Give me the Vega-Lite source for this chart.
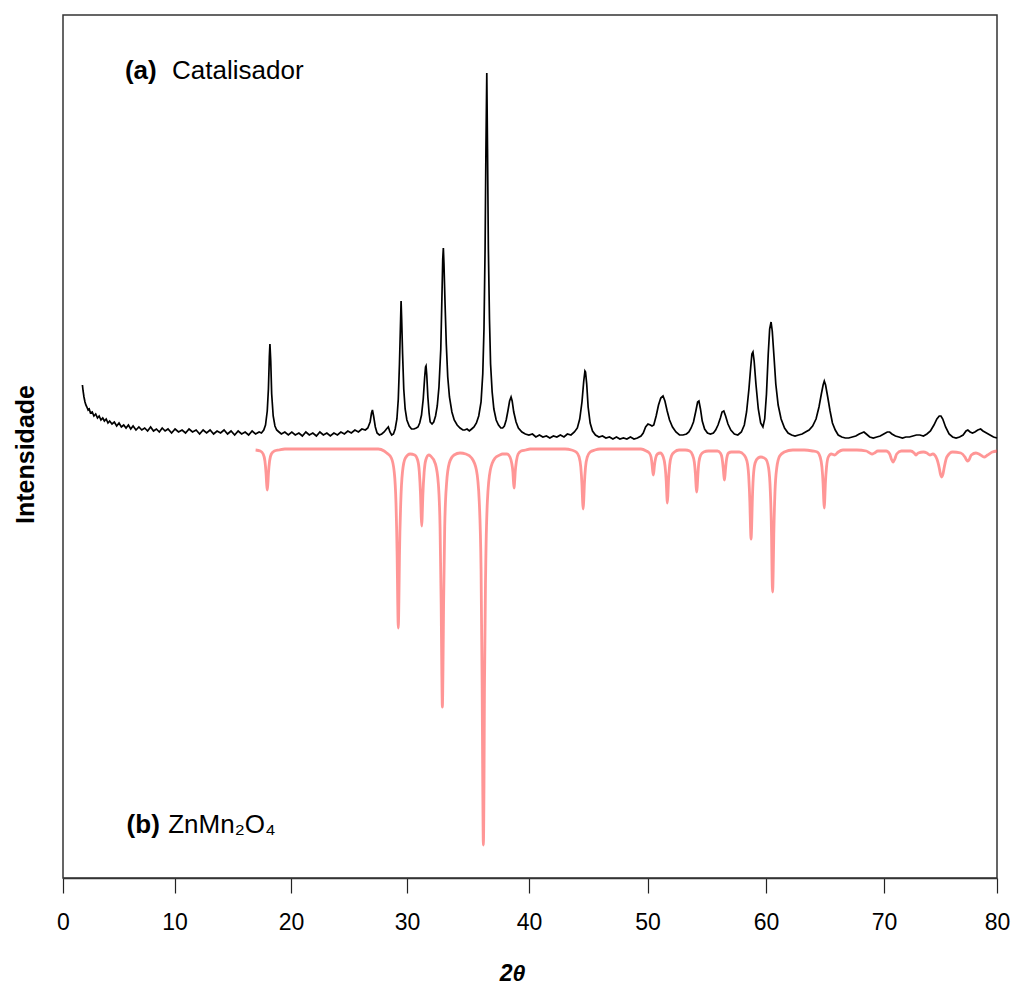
{
  "$schema": "https://vega.github.io/schema/vega-lite/v6.json",
  "width": 934,
  "height": 863,
  "autosize": {"type": "none"},
  "padding": {"left": 63, "top": 15, "right": 17, "bottom": 107},
  "background": "white",
  "config": {
    "font": "Liberation Sans",
    "view": {"stroke": "#333333", "strokeWidth": 1.5}
  },
  "datasets": {
    "cat": [
      {"t":1.74,"i":64},{"t":1.80,"i":58},{"t":1.88,"i":52},{"t":1.97,"i":47},{"t":2.05,"i":44},{"t":2.14,"i":42},{"t":2.25,"i":39},{"t":2.35,"i":40},{"t":2.46,"i":36},{"t":2.62,"i":37},{"t":2.77,"i":33},{"t":2.93,"i":35},{"t":3.09,"i":31},{"t":3.24,"i":33},{"t":3.40,"i":29},{"t":3.56,"i":31},{"t":3.71,"i":28},{"t":3.87,"i":30},{"t":4.03,"i":26},{"t":4.18,"i":28},{"t":4.39,"i":25},{"t":4.60,"i":27},{"t":4.81,"i":23},{"t":5.02,"i":26},{"t":5.23,"i":22},{"t":5.44,"i":24},{"t":5.65,"i":21},{"t":5.86,"i":24},{"t":6.07,"i":20},{"t":6.28,"i":23},{"t":6.54,"i":19},{"t":6.80,"i":22},{"t":7.06,"i":19},{"t":7.32,"i":21},{"t":7.58,"i":18},{"t":7.85,"i":22},{"t":8.11,"i":18},{"t":8.37,"i":20},{"t":8.63,"i":17},{"t":8.89,"i":21},{"t":9.15,"i":18},{"t":9.41,"i":20},{"t":9.73,"i":16},
      {"t":10.04,"i":20},{"t":10.34,"i":17},{"t":10.64,"i":19},{"t":10.94,"i":16},{"t":11.24,"i":20},{"t":11.54,"i":17},{"t":11.85,"i":19},{"t":12.15,"i":15},{"t":12.45,"i":19},{"t":12.75,"i":16},{"t":13.05,"i":19},{"t":13.35,"i":15},{"t":13.65,"i":18},{"t":13.95,"i":16},{"t":14.25,"i":19},{"t":14.55,"i":15},{"t":14.85,"i":18},{"t":15.16,"i":14},{"t":15.46,"i":18},{"t":15.76,"i":15},{"t":16.06,"i":17},{"t":16.36,"i":14},{"t":16.66,"i":18},{"t":16.96,"i":15},{"t":17.26,"i":17},{"t":17.46,"i":16},
      {"t":17.66,"i":19},{"t":17.81,"i":24},{"t":17.96,"i":38},{"t":18.06,"i":60},{"t":18.14,"i":92},{"t":18.19,"i":105},{"t":18.26,"i":88},{"t":18.34,"i":55},{"t":18.47,"i":33},{"t":18.62,"i":23},{"t":18.77,"i":19},{"t":18.97,"i":17},{"t":19.17,"i":15},{"t":19.47,"i":17},{"t":19.77,"i":14},
      {"t":20.07,"i":17},{"t":20.37,"i":14},{"t":20.68,"i":16},{"t":20.98,"i":13},{"t":21.28,"i":17},{"t":21.58,"i":14},{"t":21.88,"i":16},{"t":22.19,"i":13},{"t":22.49,"i":17},{"t":22.79,"i":14},{"t":23.09,"i":16},{"t":23.39,"i":13},{"t":23.70,"i":16},{"t":24.00,"i":14},{"t":24.30,"i":17},{"t":24.60,"i":15},{"t":24.90,"i":18},{"t":25.20,"i":16},{"t":25.51,"i":19},{"t":25.81,"i":17},{"t":26.11,"i":20},{"t":26.41,"i":19},
      {"t":26.62,"i":21},{"t":26.82,"i":27},{"t":26.94,"i":36},{"t":27.02,"i":39},{"t":27.12,"i":33},{"t":27.27,"i":22},{"t":27.42,"i":16},{"t":27.62,"i":14},{"t":27.82,"i":15},{"t":28.03,"i":17},{"t":28.23,"i":20},{"t":28.39,"i":22},{"t":28.53,"i":17},{"t":28.68,"i":14},{"t":28.83,"i":15},
      {"t":28.98,"i":20},{"t":29.13,"i":30},{"t":29.25,"i":50},{"t":29.35,"i":85},{"t":29.44,"i":125},{"t":29.49,"i":148},{"t":29.54,"i":130},{"t":29.62,"i":95},{"t":29.72,"i":60},{"t":29.84,"i":40},{"t":29.99,"i":29},{"t":30.18,"i":23},{"t":30.37,"i":20},{"t":30.57,"i":20},{"t":30.76,"i":21},{"t":30.90,"i":22},
      {"t":31.04,"i":26},{"t":31.19,"i":34},{"t":31.33,"i":50},{"t":31.45,"i":72},{"t":31.52,"i":82},{"t":31.56,"i":83},{"t":31.62,"i":74},{"t":31.71,"i":52},{"t":31.81,"i":36},{"t":31.90,"i":27},{"t":32.05,"i":25},{"t":32.19,"i":27},
      {"t":32.34,"i":33},{"t":32.48,"i":43},{"t":32.62,"i":62},{"t":32.77,"i":100},{"t":32.86,"i":150},{"t":32.93,"i":190},{"t":32.98,"i":201},{"t":33.03,"i":185},{"t":33.12,"i":145},{"t":33.22,"i":105},{"t":33.34,"i":72},{"t":33.48,"i":52},{"t":33.68,"i":37},{"t":33.87,"i":29},{"t":34.11,"i":24},{"t":34.35,"i":21},{"t":34.58,"i":19},{"t":34.73,"i":19},{"t":34.92,"i":20},{"t":35.11,"i":18},{"t":35.30,"i":20},
      {"t":35.49,"i":22},{"t":35.69,"i":26},{"t":35.88,"i":33},{"t":36.07,"i":47},{"t":36.21,"i":75},{"t":36.31,"i":120},{"t":36.40,"i":200},{"t":36.47,"i":300},{"t":36.54,"i":376},{"t":36.60,"i":300},{"t":36.67,"i":200},{"t":36.76,"i":130},{"t":36.85,"i":85},{"t":36.98,"i":57},{"t":37.12,"i":40},{"t":37.31,"i":29},{"t":37.50,"i":24},{"t":37.69,"i":21},{"t":37.84,"i":21},
      {"t":37.98,"i":23},{"t":38.13,"i":29},{"t":38.27,"i":38},{"t":38.41,"i":48},{"t":38.53,"i":52},{"t":38.62,"i":48},{"t":38.75,"i":37},{"t":38.94,"i":27},{"t":39.13,"i":21},{"t":39.42,"i":17},{"t":39.70,"i":15},{"t":39.99,"i":14},
      {"t":40.29,"i":15},{"t":40.58,"i":12},{"t":40.88,"i":14},{"t":41.17,"i":12},{"t":41.47,"i":13},{"t":41.76,"i":11},{"t":42.06,"i":13},{"t":42.35,"i":12},{"t":42.65,"i":14},{"t":42.95,"i":12},{"t":43.24,"i":15},{"t":43.54,"i":14},{"t":43.83,"i":17},
      {"t":44.08,"i":21},{"t":44.28,"i":30},{"t":44.47,"i":47},{"t":44.62,"i":68},{"t":44.72,"i":78},{"t":44.77,"i":77},{"t":44.87,"i":65},{"t":44.99,"i":42},{"t":45.16,"i":26},{"t":45.36,"i":18},{"t":45.61,"i":14},{"t":45.90,"i":12},{"t":46.20,"i":13},{"t":46.49,"i":11},{"t":46.79,"i":12},{"t":47.08,"i":10},{"t":47.38,"i":12},{"t":47.67,"i":10},{"t":47.97,"i":11},{"t":48.26,"i":10},{"t":48.56,"i":12},{"t":48.86,"i":10},{"t":49.15,"i":11},{"t":49.45,"i":13},
      {"t":49.64,"i":16},{"t":49.84,"i":22},{"t":50.04,"i":25},{"t":50.24,"i":24},{"t":50.38,"i":23},{"t":50.53,"i":24},{"t":50.73,"i":33},{"t":50.93,"i":44},{"t":51.12,"i":51},{"t":51.31,"i":53},{"t":51.47,"i":48},{"t":51.66,"i":38},{"t":51.86,"i":29},{"t":52.11,"i":22},{"t":52.40,"i":17},{"t":52.70,"i":14},{"t":52.99,"i":14},{"t":53.29,"i":15},
      {"t":53.49,"i":17},{"t":53.68,"i":21},{"t":53.88,"i":27},{"t":54.08,"i":38},{"t":54.23,"i":47},{"t":54.34,"i":48},{"t":54.47,"i":40},{"t":54.62,"i":28},{"t":54.82,"i":20},{"t":55.06,"i":16},{"t":55.31,"i":15},{"t":55.56,"i":16},{"t":55.75,"i":19},{"t":55.95,"i":24},{"t":56.15,"i":31},{"t":56.29,"i":37},{"t":56.44,"i":38},{"t":56.59,"i":33},{"t":56.79,"i":25},{"t":57.03,"i":19},{"t":57.33,"i":15},{"t":57.62,"i":14},
      {"t":57.92,"i":17},{"t":58.17,"i":24},{"t":58.36,"i":37},{"t":58.56,"i":60},{"t":58.71,"i":82},{"t":58.81,"i":95},{"t":58.90,"i":97},{"t":59.00,"i":88},{"t":59.15,"i":65},{"t":59.35,"i":40},{"t":59.55,"i":26},{"t":59.74,"i":22},{"t":59.89,"i":30},{"t":60.04,"i":55},{"t":60.19,"i":95},{"t":60.31,"i":120},{"t":60.43,"i":127},{"t":60.53,"i":118},{"t":60.68,"i":92},{"t":60.83,"i":65},{"t":61.03,"i":44},{"t":61.28,"i":30},{"t":61.57,"i":21},{"t":61.87,"i":16},{"t":62.17,"i":14},{"t":62.46,"i":13},
      {"t":62.76,"i":14},{"t":63.06,"i":15},{"t":63.35,"i":17},{"t":63.65,"i":19},{"t":63.95,"i":23},{"t":64.24,"i":30},{"t":64.49,"i":42},{"t":64.69,"i":55},{"t":64.84,"i":64},{"t":64.94,"i":68},{"t":65.05,"i":64},{"t":65.23,"i":52},{"t":65.43,"i":38},{"t":65.63,"i":26},{"t":65.87,"i":19},{"t":66.12,"i":14},{"t":66.42,"i":12},{"t":66.72,"i":11},{"t":67.01,"i":11},{"t":67.31,"i":12},{"t":67.61,"i":13},{"t":67.90,"i":15},{"t":68.10,"i":16},{"t":68.30,"i":17},{"t":68.50,"i":15},{"t":68.79,"i":12},{"t":69.09,"i":11},{"t":69.39,"i":12},{"t":69.68,"i":13},{"t":69.98,"i":15},{"t":70.29,"i":17},{"t":70.50,"i":17},{"t":70.70,"i":15},{"t":71.01,"i":13},{"t":71.32,"i":12},{"t":71.63,"i":11},{"t":71.94,"i":12},{"t":72.25,"i":12},{"t":72.56,"i":13},{"t":72.87,"i":14},{"t":73.18,"i":14},{"t":73.49,"i":13},
      {"t":73.80,"i":15},{"t":74.11,"i":18},{"t":74.42,"i":24},{"t":74.68,"i":30},{"t":74.89,"i":33},{"t":75.04,"i":33},{"t":75.20,"i":30},{"t":75.45,"i":22},{"t":75.76,"i":15},{"t":76.07,"i":12},{"t":76.38,"i":11},{"t":76.69,"i":12},{"t":77.00,"i":14},{"t":77.26,"i":18},{"t":77.42,"i":19},{"t":77.62,"i":17},{"t":77.83,"i":16},{"t":78.04,"i":17},{"t":78.30,"i":19},{"t":78.55,"i":20},{"t":78.76,"i":18},{"t":79.07,"i":16},{"t":79.38,"i":14},{"t":79.69,"i":12},{"t":80.0,"i":11}
    ],
    "ref": [
      {"t":16.96,"i":-1},{"t":17.36,"i":-2},{"t":17.61,"i":-5},{"t":17.76,"i":-12},{"t":17.86,"i":-25},{"t":17.91,"i":-35},{"t":17.96,"i":-41},{"t":18.01,"i":-35},{"t":18.06,"i":-25},{"t":18.16,"i":-12},{"t":18.31,"i":-5},{"t":18.57,"i":-2},{"t":18.97,"i":-1},{"t":19.47,"i":0},
      {"t":27.52,"i":0},{"t":28.03,"i":-2},{"t":28.25,"i":-4},{"t":28.65,"i":-9},{"t":28.90,"i":-23},{"t":29.05,"i":-54},{"t":29.15,"i":-107},{"t":29.20,"i":-152},{"t":29.25,"i":-179},{"t":29.30,"i":-152},{"t":29.35,"i":-107},{"t":29.46,"i":-54},{"t":29.61,"i":-23},{"t":29.86,"i":-9},{"t":30.25,"i":-5},
      {"t":30.63,"i":-6},{"t":30.87,"i":-11},{"t":31.01,"i":-23},{"t":31.11,"i":-46},{"t":31.16,"i":-65},{"t":31.21,"i":-77},{"t":31.25,"i":-65},{"t":31.30,"i":-46},{"t":31.40,"i":-24},{"t":31.54,"i":-11},{"t":31.78,"i":-6},
      {"t":31.94,"i":-7},{"t":32.33,"i":-15},{"t":32.57,"i":-35},{"t":32.71,"i":-78},{"t":32.80,"i":-155},{"t":32.85,"i":-219},{"t":32.90,"i":-258},{"t":32.95,"i":-219},{"t":33.00,"i":-155},{"t":33.09,"i":-78},{"t":33.24,"i":-35},{"t":33.47,"i":-14},{"t":33.86,"i":-6},{"t":34.35,"i":-4},{"t":34.82,"i":-5},
      {"t":35.30,"i":-9},{"t":35.69,"i":-21},{"t":35.92,"i":-52},{"t":36.07,"i":-120},{"t":36.16,"i":-238},{"t":36.21,"i":-337},{"t":36.26,"i":-396},{"t":36.31,"i":-337},{"t":36.35,"i":-238},{"t":36.45,"i":-120},{"t":36.59,"i":-52},{"t":36.83,"i":-21},{"t":37.22,"i":-9},{"t":37.60,"i":-6},{"t":37.82,"i":-5},
      {"t":38.20,"i":-5},{"t":38.44,"i":-8},{"t":38.58,"i":-14},{"t":38.68,"i":-23},{"t":38.73,"i":-33},{"t":38.78,"i":-39},{"t":38.82,"i":-33},{"t":38.87,"i":-23},{"t":38.97,"i":-12},{"t":39.11,"i":-5},{"t":39.35,"i":-2},{"t":39.73,"i":-1},{"t":40.09,"i":0},
      {"t":43.04,"i":0},{"t":43.59,"i":-1},{"t":43.98,"i":-3},{"t":44.23,"i":-8},{"t":44.37,"i":-18},{"t":44.47,"i":-36},{"t":44.52,"i":-51},{"t":44.57,"i":-60},{"t":44.62,"i":-51},{"t":44.67,"i":-36},{"t":44.77,"i":-18},{"t":44.92,"i":-8},{"t":45.16,"i":-3},{"t":45.56,"i":-1},{"t":46.00,"i":0},
      {"t":49.45,"i":0},{"t":49.90,"i":-2},{"t":50.15,"i":-4},{"t":50.30,"i":-8},{"t":50.39,"i":-16},{"t":50.44,"i":-22},{"t":50.49,"i":-26},{"t":50.54,"i":-22},{"t":50.59,"i":-16},{"t":50.69,"i":-9},{"t":50.84,"i":-5},{"t":51.08,"i":-4},
      {"t":51.33,"i":-8},{"t":51.48,"i":-17},{"t":51.58,"i":-32},{"t":51.63,"i":-46},{"t":51.67,"i":-54},{"t":51.72,"i":-46},{"t":51.77,"i":-32},{"t":51.87,"i":-16},{"t":52.02,"i":-7},{"t":52.27,"i":-3},{"t":52.66,"i":-1},{"t":53.19,"i":-1},
      {"t":53.56,"i":-2},{"t":53.80,"i":-6},{"t":53.95,"i":-13},{"t":54.05,"i":-26},{"t":54.10,"i":-37},{"t":54.15,"i":-43},{"t":54.20,"i":-37},{"t":54.25,"i":-26},{"t":54.34,"i":-13},{"t":54.49,"i":-6},{"t":54.74,"i":-3},{"t":55.13,"i":-2},{"t":55.51,"i":-2},
      {"t":55.90,"i":-2},{"t":56.15,"i":-4},{"t":56.29,"i":-9},{"t":56.39,"i":-19},{"t":56.44,"i":-26},{"t":56.49,"i":-31},{"t":56.54,"i":-26},{"t":56.59,"i":-19},{"t":56.69,"i":-9},{"t":56.84,"i":-4},{"t":57.08,"i":-3},{"t":57.43,"i":-3},
      {"t":57.75,"i":-3},{"t":58.15,"i":-6},{"t":58.39,"i":-12},{"t":58.54,"i":-27},{"t":58.64,"i":-54},{"t":58.69,"i":-77},{"t":58.74,"i":-90},{"t":58.79,"i":-77},{"t":58.84,"i":-54},{"t":58.93,"i":-28},{"t":59.08,"i":-14},{"t":59.33,"i":-9},{"t":59.57,"i":-8},
      {"t":59.97,"i":-10},{"t":60.22,"i":-19},{"t":60.37,"i":-43},{"t":60.47,"i":-86},{"t":60.51,"i":-122},{"t":60.56,"i":-143},{"t":60.61,"i":-122},{"t":60.66,"i":-86},{"t":60.76,"i":-43},{"t":60.91,"i":-19},{"t":61.16,"i":-7},{"t":61.55,"i":-3},{"t":62.27,"i":-1},{"t":63.25,"i":-1},
      {"t":63.95,"i":-2},{"t":64.34,"i":-3},{"t":64.59,"i":-8},{"t":64.74,"i":-18},{"t":64.84,"i":-35},{"t":64.89,"i":-50},{"t":64.94,"i":-59},{"t":64.98,"i":-50},{"t":65.03,"i":-35},{"t":65.13,"i":-18},{"t":65.28,"i":-8},{"t":65.53,"i":-5},{"t":65.83,"i":-6},{"t":66.12,"i":-3},{"t":66.52,"i":-1},
      {"t":67.70,"i":-1},{"t":68.50,"i":-2},{"t":68.79,"i":-4},{"t":68.99,"i":-5},{"t":69.19,"i":-4},{"t":69.48,"i":-2},{"t":70.19,"i":-2},{"t":70.50,"i":-5},{"t":70.65,"i":-10},{"t":70.81,"i":-13},{"t":70.96,"i":-10},{"t":71.12,"i":-5},{"t":71.53,"i":-2},
      {"t":72.36,"i":-2},{"t":72.67,"i":-4},{"t":72.83,"i":-6},{"t":73.03,"i":-4},{"t":73.49,"i":-3},{"t":73.80,"i":-4},{"t":74.07,"i":-6},{"t":74.32,"i":-5},{"t":74.68,"i":-10},{"t":74.89,"i":-19},{"t":74.99,"i":-25},{"t":75.10,"i":-28},{"t":75.22,"i":-25},{"t":75.32,"i":-19},{"t":75.56,"i":-8},{"t":76.07,"i":-3},
      {"t":76.80,"i":-4},{"t":77.16,"i":-8},{"t":77.31,"i":-11},{"t":77.42,"i":-12},{"t":77.52,"i":-11},{"t":77.73,"i":-6},{"t":78.14,"i":-4},{"t":78.55,"i":-6},{"t":78.86,"i":-8},{"t":79.17,"i":-6},{"t":79.59,"i":-3},{"t":80.0,"i":-2}
    ],
    "boldLabels": [
      {"t":5.55,"i":370.5,"label":"(a)"},
      {"t":5.70,"i":-384,"label":"(b)"}
    ],
    "plainLabels": [
      {"t":9.77,"i":370.5,"label":"Catalisador"},
      {"t":9.43,"i":-384,"label":"ZnMn₂O₄"}
    ]
  },
  "encoding": {
    "x": {
      "field": "t",
      "type": "quantitative",
      "scale": {
        "domain": [0, 10, 20, 30, 40, 50, 60, 70, 80],
        "range": [0, 111.6, 228, 344, 466, 584.5, 703, 821, 934],
        "nice": false,
        "zero": false
      },
      "axis": {
        "title": "2θ",
        "values": [0, 10, 20, 30, 40, 50, 60, 70, 80],
        "grid": false,
        "labelFlush": false,
        "domainColor": "#333333",
        "domainWidth": 1.5,
        "tickColor": "#222222",
        "tickWidth": 1.2,
        "tickSize": 15,
        "labelFontSize": 23,
        "labelColor": "black",
        "labelPadding": 18,
        "labelFont": "Liberation Sans",
        "titleFont": "Liberation Sans",
        "titleFontSize": 23,
        "titleFontWeight": "bold",
        "titleFontStyle": "italic",
        "titleColor": "black",
        "titleX": 449,
        "titleY": 102,
        "titleBaseline": "alphabetic"
      }
    },
    "y": {
      "field": "i",
      "type": "quantitative",
      "scale": {"domain": [-429, 434], "nice": false, "zero": false},
      "axis": {
        "title": "Intensidade",
        "ticks": false,
        "labels": false,
        "domain": false,
        "grid": false,
        "titleFont": "Liberation Sans",
        "titleFontSize": 25,
        "titleFontWeight": "bold",
        "titleColor": "black",
        "titleX": -30,
        "titleY": 439,
        "titleBaseline": "alphabetic"
      }
    }
  },
  "layer": [
    {
      "data": {"name": "ref"},
      "mark": {"type": "line", "color": "#ff4040", "strokeWidth": 2.8, "opacity": 0.55, "interpolate": "monotone"}
    },
    {
      "data": {"name": "cat"},
      "mark": {"type": "line", "color": "#000000", "strokeWidth": 1.7}
    },
    {
      "data": {"values": [{}]},
      "mark": {"type": "rule", "color": "#000000", "strokeWidth": 1.5},
      "encoding": {"y": {"datum": 0}, "x": {"value": 0}, "x2": {"value": 934}}
    },
    {
      "data": {"name": "boldLabels"},
      "mark": {"type": "text", "align": "left", "baseline": "alphabetic", "fontSize": 26, "fontWeight": "bold", "font": "Liberation Sans", "color": "black"},
      "encoding": {"text": {"field": "label"}}
    },
    {
      "data": {"name": "plainLabels"},
      "mark": {"type": "text", "align": "left", "baseline": "alphabetic", "fontSize": 26, "font": "Liberation Sans", "color": "black"},
      "encoding": {"text": {"field": "label"}}
    }
  ]
}
